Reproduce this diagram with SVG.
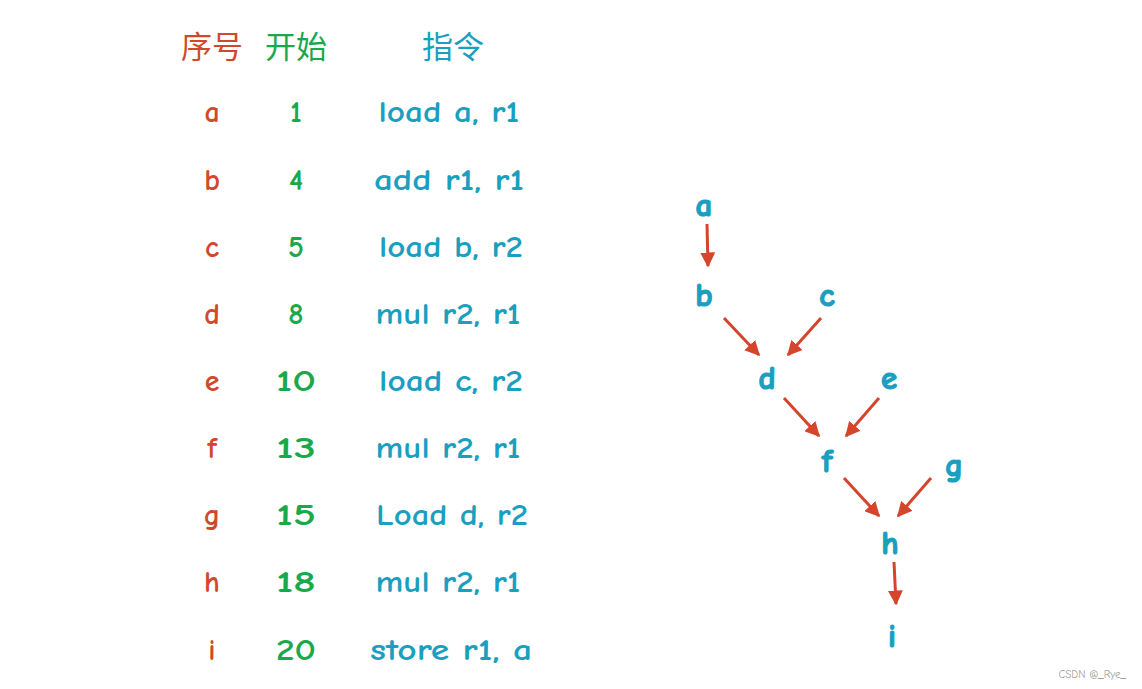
<svg xmlns="http://www.w3.org/2000/svg" width="1142" height="689" viewBox="0 0 1142 689">
<style>
text{font-family:"Comic Neue","Noto Sans","Noto Sans CJK SC",sans-serif;}
.h{font-size:31px;text-anchor:middle;}
.r{fill:#d1492b;}
.g{fill:#1aa84c;}
.b{fill:#1a9fc0;}
.t{font-size:30px;text-anchor:middle;font-weight:700;}
.n{font-size:33px;text-anchor:middle;fill:#1a9fc0;font-weight:700;stroke:#1a9fc0;stroke-width:1.2;}
.c{stroke:#d4452b;stroke-width:3;fill:none;marker-end:url(#ah);}
</style>
<defs>
<marker id="ah" viewBox="0 0 10 10" refX="9" refY="5" markerWidth="5" markerHeight="5" markerUnits="strokeWidth" orient="auto">
<path d="M0,0 L10,5 L0,10 z" fill="#d4452b"/>
</marker>
</defs>
<rect width="1142" height="689" fill="#ffffff"/>
<g id="header">
<text class="h r" x="212" y="58" font-family="Noto Sans CJK SC">序号</text>
<text class="h g" x="296" y="58">开始</text>
<text class="h b" x="453" y="58">指令</text>
</g>
<g id="table">
<text class="t r" x="212" y="122">a</text>
<text class="t g" x="296" y="122">1</text>
<text class="t b" x="449" y="122" textLength="141" lengthAdjust="spacingAndGlyphs">load a, r1</text>
<text class="t r" x="212" y="190">b</text>
<text class="t g" x="296" y="190">4</text>
<text class="t b" x="449" y="190" textLength="150" lengthAdjust="spacingAndGlyphs">add r1, r1</text>
<text class="t r" x="212" y="257">c</text>
<text class="t g" x="296" y="257">5</text>
<text class="t b" x="451" y="257" textLength="144" lengthAdjust="spacingAndGlyphs">load b, r2</text>
<text class="t r" x="212" y="324">d</text>
<text class="t g" x="296" y="324">8</text>
<text class="t b" x="448" y="324" textLength="145" lengthAdjust="spacingAndGlyphs">mul r2, r1</text>
<text class="t r" x="212" y="391">e</text>
<text class="t g" x="296" y="391" textLength="40" lengthAdjust="spacingAndGlyphs">10</text>
<text class="t b" x="451" y="391" textLength="144" lengthAdjust="spacingAndGlyphs">load c, r2</text>
<text class="t r" x="212" y="458">f</text>
<text class="t g" x="296" y="458" textLength="40" lengthAdjust="spacingAndGlyphs">13</text>
<text class="t b" x="448" y="458" textLength="145" lengthAdjust="spacingAndGlyphs">mul r2, r1</text>
<text class="t r" x="212" y="525">g</text>
<text class="t g" x="296" y="525" textLength="40" lengthAdjust="spacingAndGlyphs">15</text>
<text class="t b" x="452" y="525" textLength="152" lengthAdjust="spacingAndGlyphs">Load d, r2</text>
<text class="t r" x="212" y="592">h</text>
<text class="t g" x="296" y="592" textLength="40" lengthAdjust="spacingAndGlyphs">18</text>
<text class="t b" x="448" y="592" textLength="145" lengthAdjust="spacingAndGlyphs">mul r2, r1</text>
<text class="t r" x="212" y="660">i</text>
<text class="t g" x="296" y="660" textLength="40" lengthAdjust="spacingAndGlyphs">20</text>
<text class="t b" x="451" y="660" textLength="162" lengthAdjust="spacingAndGlyphs">store r1, a</text>
</g>
<g id="node-a"><text class="n" x="704" y="216">a</text></g>
<g id="node-b"><text class="n" x="704" y="306">b</text></g>
<g id="node-c"><text class="n" x="827" y="306">c</text></g>
<g id="node-d"><text class="n" x="767" y="389">d</text></g>
<g id="node-e"><text class="n" x="889" y="389">e</text></g>
<g id="node-f"><text class="n" x="827" y="472">f</text></g>
<g id="node-g"><text class="n" x="954" y="476">g</text></g>
<g id="node-h"><text class="n" x="890" y="554">h</text></g>
<g id="node-i"><text class="n" x="892" y="647">i</text></g>
<g id="connectors">
<line class="c" x1="707" y1="224" x2="708" y2="266"/>
<line class="c" x1="724" y1="318" x2="759" y2="355"/>
<line class="c" x1="821" y1="318" x2="788" y2="355"/>
<line class="c" x1="784" y1="398" x2="819" y2="436"/>
<line class="c" x1="879" y1="398" x2="846" y2="436"/>
<line class="c" x1="844" y1="478" x2="879" y2="516"/>
<line class="c" x1="931" y1="478" x2="898" y2="516"/>
<line class="c" x1="894" y1="562" x2="896" y2="604"/>
</g>
<text x="1126" y="678" font-family="Liberation Sans, sans-serif" font-size="11" fill="#a0a0a0" text-anchor="end">CSDN @_Rye_</text>
</svg>
